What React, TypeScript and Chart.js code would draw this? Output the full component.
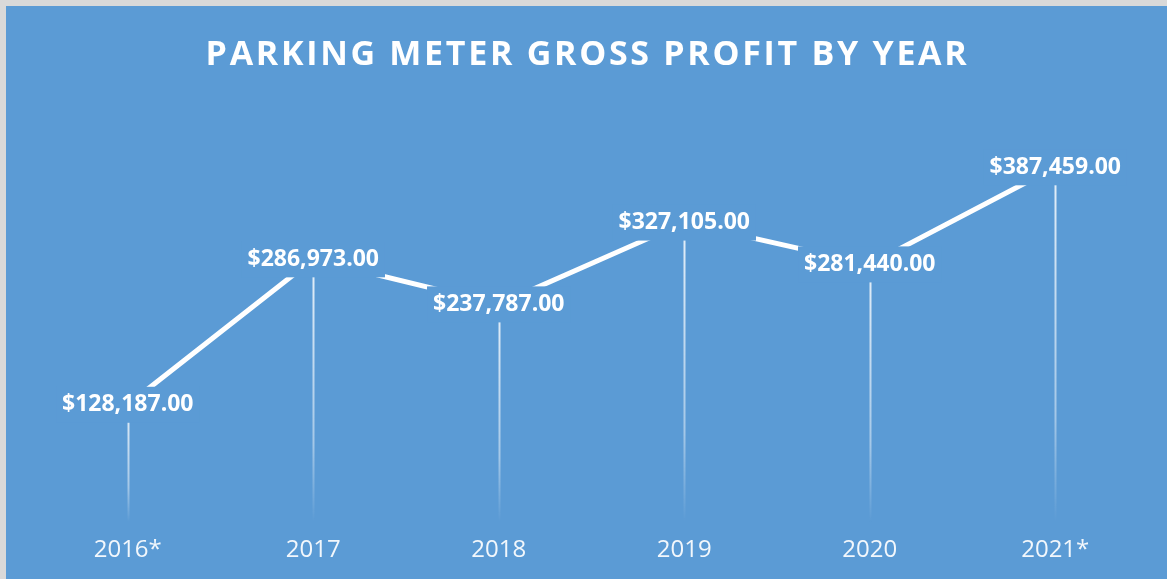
import React, { useEffect, useRef } from "react";
import { Chart, registerables } from "chart.js";

Chart.register(...registerables);

const categories = ["2016*", "2017", "2018", "2019", "2020", "2021*"];
const profits = [128187, 286973, 237787, 327105, 281440, 387459];
const titleText = "PARKING METER GROSS PROFIT BY YEAR";
const yMin = 0;
const yMax = 450000;

const BG = "#5B9BD5";

const fmt = (v: number) =>
  "$" + v.toLocaleString("en-US", { minimumFractionDigits: 2, maximumFractionDigits: 2 });

const decorPlugin = {
  id: "decor",
  beforeDatasetsDraw(chart: any) {
    const { ctx, chartArea } = chart;
    const meta = chart.getDatasetMeta(0);
    ctx.save();
    meta.data.forEach((pt: any) => {
      const g = ctx.createLinearGradient(0, pt.y, 0, chartArea.bottom);
      g.addColorStop(0, "rgba(255,255,255,0.85)");
      g.addColorStop(0.7, "rgba(255,255,255,0.45)");
      g.addColorStop(1, "rgba(255,255,255,0)");
      ctx.strokeStyle = g;
      ctx.lineWidth = 2;
      ctx.beginPath();
      ctx.moveTo(Math.round(pt.x) + 0.5, pt.y);
      ctx.lineTo(Math.round(pt.x) + 0.5, chartArea.bottom);
      ctx.stroke();
    });
    ctx.restore();
  },
  afterDatasetsDraw(chart: any) {
    const { ctx } = chart;
    const meta = chart.getDatasetMeta(0);
    const data = chart.data.datasets[0].data as number[];
    ctx.save();
    ctx.font = "bold 23px 'Open Sans'";
    ctx.textAlign = "center";
    ctx.textBaseline = "middle";
    meta.data.forEach((pt: any, i: number) => {
      const txt = fmt(data[i]);
      const w = ctx.measureText(txt).width + 12;
      const h = 36;
      ctx.fillStyle = BG;
      ctx.fillRect(pt.x - w / 2, pt.y - h / 2, w, h);
      ctx.fillStyle = "#ffffff";
      ctx.fillText(txt, pt.x, pt.y);
    });
    ctx.restore();
  },
  afterDraw(chart: any) {
    const { ctx, width } = chart;
    ctx.save();
    ctx.font = "bold 34px 'Open Sans'";
    (ctx as any).letterSpacing = "2.7px";
    ctx.fillStyle = "#ffffff";
    ctx.textAlign = "center";
    ctx.textBaseline = "middle";
    ctx.fillText(titleText, width / 2 + 1, 49);
    ctx.restore();
  },
};

export default function App() {
  const ref = useRef<HTMLCanvasElement | null>(null);
  useEffect(() => {
    if (!ref.current) return;
    const chart = new Chart(ref.current, {
      type: "line",
      data: {
        labels: categories,
        datasets: [
          {
            data: profits,
            borderColor: "#ffffff",
            borderWidth: 5,
            pointRadius: 0,
            tension: 0,
            fill: false,
          },
        ],
      },
      options: {
        animation: false,
        responsive: false,
        maintainAspectRatio: false,
        layout: { padding: { left: 29, right: 19, top: 104, bottom: 0 } },
        plugins: {
          legend: { display: false },
          title: { display: false },
          tooltip: { enabled: false },
        },
        scales: {
          x: {
            offset: true,
            grid: { display: false, drawTicks: false },
            border: { display: false },
            ticks: {
              color: "rgba(255,255,255,0.92)",
              font: { family: "'Open Sans'", size: 24 },
              padding: 14,
            },
          },
          y: {
            display: false,
            min: yMin,
            max: yMax,
          },
        },
      },
      plugins: [decorPlugin],
    });
    return () => chart.destroy();
  }, []);
  return (
    <div
      style={{
        position: "fixed",
        left: 0,
        top: 0,
        width: 1167,
        height: 579,
        background: "#d9d9d9",
      }}
    >
      <div style={{ position: "absolute", left: 6, top: 6, width: 1161, height: 573, background: BG }}>
        <canvas ref={ref} width={1161} height={573} style={{ display: "block" }} />
      </div>
    </div>
  );
}
